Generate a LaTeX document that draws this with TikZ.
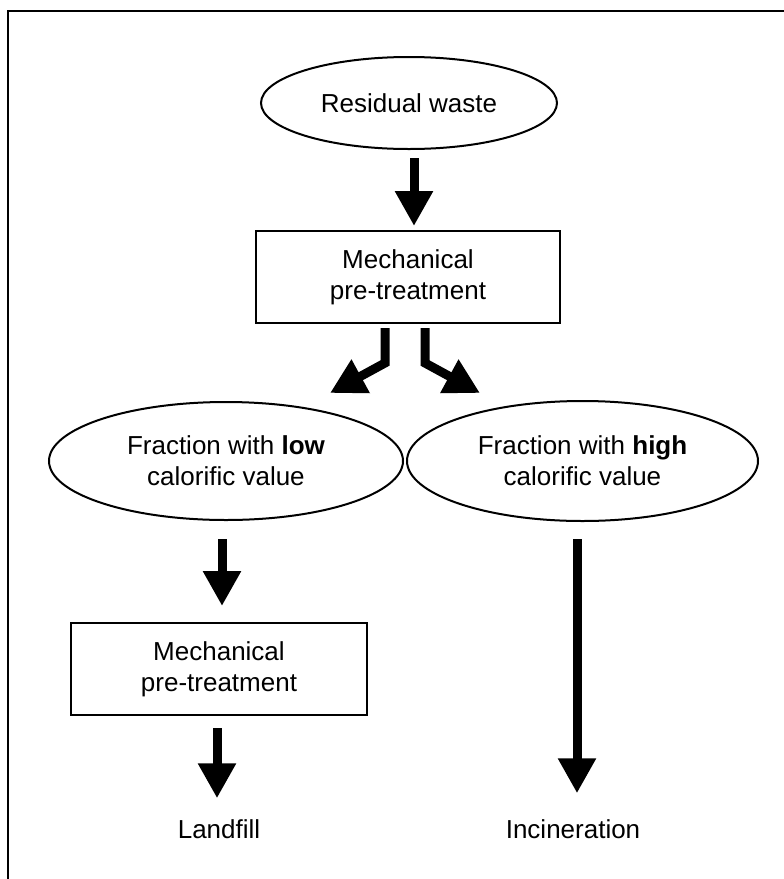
\documentclass[tikz,border=0pt]{standalone}
\usepackage{fontspec}
\setmainfont{Liberation Sans}
\usetikzlibrary{shapes.geometric,arrows.meta}
\begin{document}
\begin{tikzpicture}[x=1pt,y=-1pt,
  every node/.style={font=\fontsize{26}{31}\selectfont, align=center, inner sep=0pt},
  oval/.style={draw, ellipse, line width=2pt},
  pbox/.style={draw, rectangle, line width=2pt},
  bigarrow/.style={line width=9pt, -{Triangle[length=35pt,width=36pt]}}]
\useasboundingbox (0,0) rectangle (784,879);
\draw[line width=2.5pt] (8,879) -- (8,11) -- (784,11);
\node[oval, minimum width=296pt, minimum height=92pt] (res) at (409,103) {Residual waste};
\node[pbox, minimum width=304pt, minimum height=92pt] (box1) at (408,277) {Mechanical\\pre-treatment};
\node[oval, minimum width=354pt, minimum height=118pt] (low) at (226,461) {Fraction with \textbf{low}\\calorific value};
\node[oval, minimum width=351pt, minimum height=120pt] (high) at (582.5,461) {Fraction with \textbf{high}\\calorific value};
\node[pbox, minimum width=296pt, minimum height=92pt] (box2) at (219,669) {Mechanical\\pre-treatment};
\node (landfill) at (219,829) {Landfill};
\node (incin) at (573,829) {Incineration};
\coordinate (tipL) at (330,393);
\coordinate (tipR) at (480,393);
\draw[bigarrow] ([xshift=5pt,yshift=-8pt]res.south) -- ([xshift=6pt,yshift=4pt]box1.north);
\draw[bigarrow] ([xshift=-23pt,yshift=-4pt]box1.south) -- ++(0,35) -- (tipL);
\draw[bigarrow] ([xshift=17pt,yshift=-4pt]box1.south) -- ++(0,35) -- (tipR);
\draw[bigarrow] ([xshift=-4pt,yshift=-18pt]low.south) -- ([xshift=3pt,yshift=16pt]box2.north);
\draw[bigarrow] ([xshift=-2pt,yshift=-12pt]box2.south) -- ([xshift=-2pt,yshift=21pt]landfill.north);
\draw[bigarrow] ([xshift=-5.5pt,yshift=-17pt]high.south) -- ([xshift=4pt,yshift=26pt]incin.north);
\end{tikzpicture}
\end{document}
